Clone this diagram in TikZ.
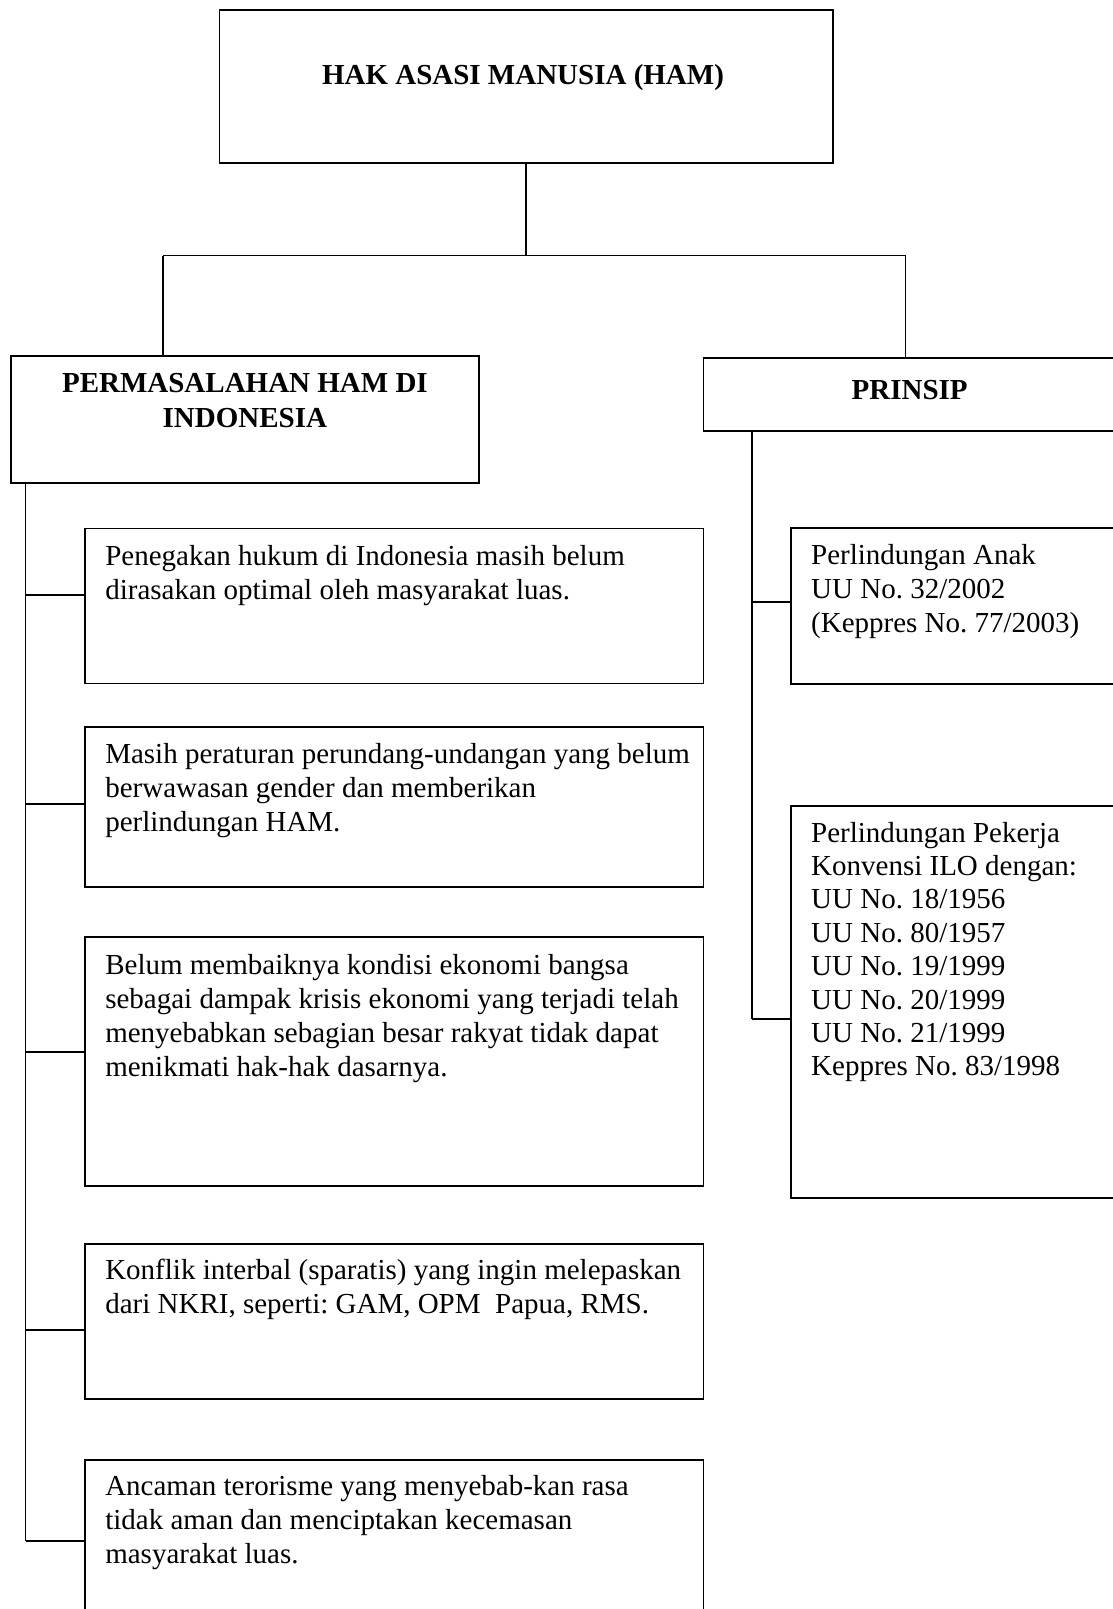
\documentclass[tikz,border=0pt]{standalone}
\usepackage{fontspec}
\setmainfont{Liberation Serif}
\frenchspacing
\newcommand\boxlines[2][l]{\begin{tabular}[t]{@{}#1@{}}#2\end{tabular}}
\begin{document}
\begin{tikzpicture}[x=1pt,y=-1pt,
  frame/.style={draw=black,line width=1.5pt,fill=none,inner sep=0pt,anchor=north west},
  link/.style={draw=black,line width=1.1pt},
  bodytext/.style={inner sep=0pt,anchor=base west,font=\fontsize{29}{34}\selectfont},
  headtext/.style={inner sep=0pt,anchor=base,font=\fontsize{29}{35}\selectfont\bfseries}]
\useasboundingbox (0,0) rectangle (1113,1609);

% top level
\node[frame,minimum width=613.5pt,minimum height=152.8pt] (ham) at (218.5,9.2) {};
\node[headtext] (hamT) at ([shift={(-3,75)}]ham.north) {HAK ASASI MANUSIA (HAM)};

% second level
\node[frame,minimum width=467.7pt,minimum height=127pt] (perm) at (10.3,355) {};
\node[headtext] (permT) at ([shift={(0,37)}]perm.north) {\boxlines[c]{PERMASALAHAN HAM DI\\INDONESIA}};
\node[frame,minimum width=430pt,minimum height=73pt] (prin) at (702.7,357) {};
\node[headtext] (prinT) at ([shift={(207,42)}]prin.north west) {PRINSIP};

% branch lines from the top box
\coordinate (jL) at (163,255.5);
\coordinate (jR) at (905.8,255.5);
\draw[link] (ham.south) -- (ham.south |- jL);
\draw[link] (jL) -- (jR);
\draw[link] (jL) -- (jL |- perm.north);
\draw[link] (jR) -- (jR |- prin.north);

% problems (left column)
\node[frame,minimum width=618.6pt,minimum height=155pt] (b1) at (84.1,527.5) {};
\node[frame,minimum width=618.6pt,minimum height=160pt] (b2) at (84.1,726) {};
\node[frame,minimum width=618.6pt,minimum height=249pt] (b3) at (84.1,936) {};
\node[frame,minimum width=618.6pt,minimum height=155pt] (b4) at (84.1,1243) {};
\node[frame,minimum width=618.6pt,minimum height=170pt] (b5) at (84.1,1459) {};

\node[bodytext] (t1) at ([shift={(21,37.5)}]b1.north west) {\boxlines{Penegakan hukum di Indonesia masih belum\\dirasakan optimal oleh masyarakat luas.}};
\node[bodytext] (t2) at ([shift={(21,37)}]b2.north west) {\boxlines{Masih peraturan perundang-undangan yang belum\\berwawasan gender dan memberikan\\perlindungan HAM.}};
\node[bodytext] (t3) at ([shift={(21,38)}]b3.north west) {\boxlines{Belum membaiknya kondisi ekonomi bangsa\\sebagai dampak krisis ekonomi yang terjadi telah\\menyebabkan sebagian besar rakyat tidak dapat\\menikmati hak-hak dasarnya.}};
\node[bodytext] (t4) at ([shift={(21,36)}]b4.north west) {\boxlines{Konflik interbal (sparatis) yang ingin melepaskan\\dari NKRI, seperti: GAM, OPM\ \ Papua, RMS.}};
\node[bodytext] (t5) at ([shift={(21,36)}]b5.north west) {\boxlines{Ancaman terorisme yang menyebab-kan rasa\\tidak aman dan menciptakan kecemasan\\masyarakat luas.}};

% left spine and hooks
\coordinate (sTop) at (25.6,482);
\coordinate (h1) at (25.6,595);
\coordinate (h2) at (25.6,804);
\coordinate (h3) at (25.6,1052);
\coordinate (h4) at (25.6,1330);
\coordinate (h5) at (25.6,1541);
\draw[link] (sTop) -- (h5);
\draw[link] (h1) -- (h1 -| b1.west);
\draw[link] (h2) -- (h2 -| b2.west);
\draw[link] (h3) -- (h3 -| b3.west);
\draw[link] (h4) -- (h4 -| b4.west);
\draw[link] (h5) -- (h5 -| b5.west);

% principles (right column)
\node[frame,minimum width=340pt,minimum height=156pt] (r1) at (790,527) {};
\node[frame,minimum width=340pt,minimum height=392pt] (r2) at (790,805) {};
\node[bodytext] (u1) at ([shift={(21,37)}]r1.north west) {\boxlines{Perlindungan Anak\\UU No. 32/2002\\(Keppres No. 77/2003)}};
\node[bodytext,font=\fontsize{29}{33.4}\selectfont] (u2) at ([shift={(21,37)}]r2.north west) {\boxlines{Perlindungan Pekerja\\Konvensi ILO dengan:\\UU No. 18/1956\\UU No. 80/1957\\UU No. 19/1999\\UU No. 20/1999\\UU No. 21/1999\\Keppres No. 83/1998}};

% right spine and hooks
\coordinate (rTop) at (752,430);
\coordinate (k1) at (752,602);
\coordinate (k2) at (752,1019);
\draw[link] (rTop) -- (k2);
\draw[link] (k1) -- (k1 -| r1.west);
\draw[link] (k2) -- (k2 -| r2.west);
\end{tikzpicture}
\end{document}
